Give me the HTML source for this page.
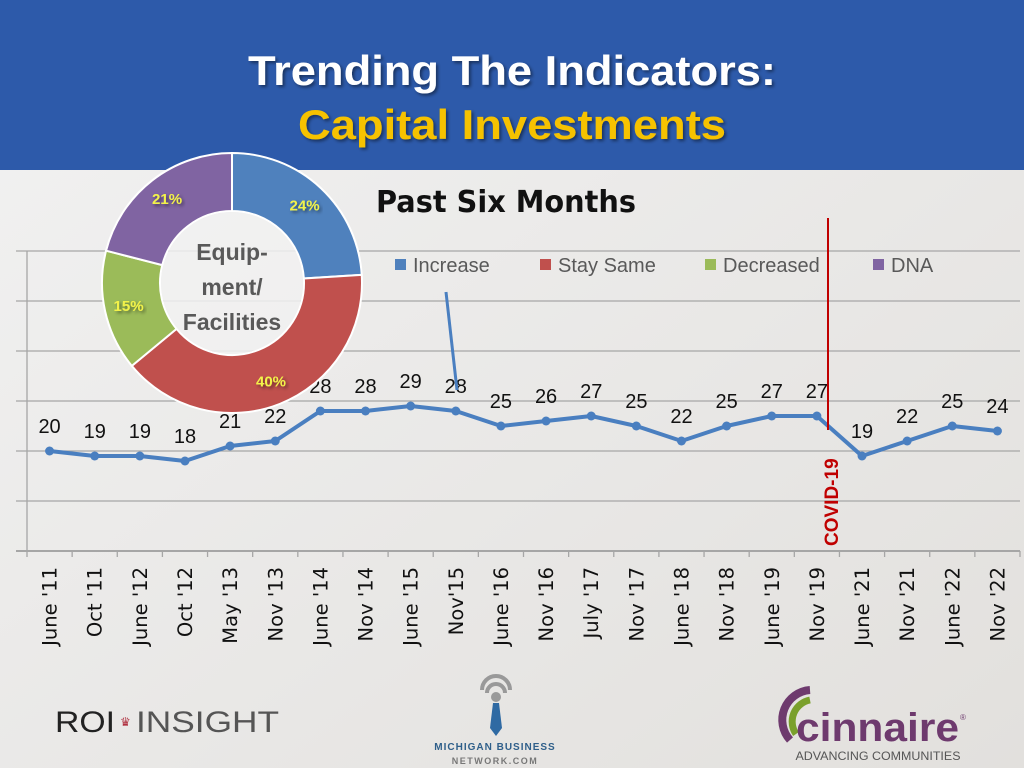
<!DOCTYPE html>
<html><head><meta charset="utf-8"><style>
body{margin:0;width:1024px;height:768px;overflow:hidden;font-family:"Liberation Sans",sans-serif;}
svg{display:block}
</style></head><body>
<svg id="s" width="1024" height="768" xmlns="http://www.w3.org/2000/svg">
<defs>
<linearGradient id="bg" x1="0" y1="0" x2="1" y2="1"><stop offset="0" stop-color="#f2f2f2"/><stop offset="1" stop-color="#e2e0dd"/></linearGradient>
<filter id="sh"><feDropShadow dx="2" dy="2" stdDeviation="1.5" flood-color="#000" flood-opacity="0.45"/></filter>
</defs>
<rect width="1024" height="768" fill="url(#bg)"/>
<rect width="1024" height="170" fill="#2d5aaa"/>
<text x="512" y="85" text-anchor="middle" font-size="42" font-weight="bold" fill="#fff" filter="url(#sh)" textLength="528" lengthAdjust="spacingAndGlyphs">Trending The Indicators:</text>
<text x="512" y="139" text-anchor="middle" font-size="42" font-weight="bold" fill="#f6c200" filter="url(#sh)" textLength="428" lengthAdjust="spacingAndGlyphs">Capital Investments</text>
<g id="grid"></g>
<g id="plot"></g>
<g id="pie"></g>
<text x="376" y="212" font-size="30" font-weight="bold" fill="#111" font-family="'DejaVu Sans',sans-serif" textLength="260" lengthAdjust="spacingAndGlyphs">Past Six Months</text>
<g font-size="20" fill="#595959">
<g><rect x="395" y="259" width="11" height="11" fill="#4f81bd"/><text x="413" y="272">Increase</text></g>
<g><rect x="540" y="259" width="11" height="11" fill="#c0504d"/><text x="558" y="272">Stay Same</text></g>
<g><rect x="705" y="259" width="11" height="11" fill="#9bbb59"/><text x="723" y="272">Decreased</text></g>
<g><rect x="873" y="259" width="11" height="11" fill="#8064a2"/><text x="891" y="272">DNA</text></g>
</g>
<line x1="446" y1="292" x2="457" y2="390" stroke="#4a7fc0" stroke-width="3"/>
<line x1="828" y1="218" x2="828" y2="430" stroke="#c00000" stroke-width="2"/>
<text transform="translate(838,546) rotate(-90)" font-size="19" font-weight="bold" fill="#c00000">COVID-19</text>
<g>
<text x="55" y="732" font-size="30" fill="#222" textLength="60" lengthAdjust="spacingAndGlyphs">ROI</text>
<text x="120" y="726" font-size="12" fill="#b03040">♛</text>
<text x="136" y="732" font-size="30" fill="#555" font-weight="normal" textLength="143" lengthAdjust="spacingAndGlyphs">INSIGHT</text>
</g>
<g>
<path d="M482 690 a14 14 0 0 1 28 0" fill="none" stroke="#999" stroke-width="4"/>
<path d="M487 693 a9 9 0 0 1 18 0" fill="none" stroke="#999" stroke-width="4"/>
<circle cx="496" cy="697" r="5" fill="#999"/>
<polygon points="493,703 499,703 502,728 496,736 490,728" fill="#2f6aa3"/>
<text x="495" y="750" text-anchor="middle" font-size="10" font-weight="bold" fill="#2f5f8a" letter-spacing="1">MICHIGAN BUSINESS</text>
<text x="495" y="764" text-anchor="middle" font-size="9" font-weight="bold" fill="#777" letter-spacing="1.5">NETWORK.COM</text>
</g>
<g>
<path d="M810 690 a30 30 0 0 0 -20 50" fill="none" stroke="#6e3a6e" stroke-width="8"/>
<path d="M810 700 a22 22 0 0 0 -14 34" fill="none" stroke="#7aa02c" stroke-width="7"/>
<text x="796" y="741" font-size="40" font-weight="bold" fill="#6e3a6e" textLength="163" lengthAdjust="spacingAndGlyphs">cinnaire</text>
<text x="960" y="720" font-size="8" fill="#6e3a6e">®</text>
<text x="878" y="760" text-anchor="middle" font-size="12" fill="#555" textLength="165" lengthAdjust="spacingAndGlyphs">ADVANCING COMMUNITIES</text>
</g>
</svg>
<script>
const categories=["June '11","Oct '11","June '12","Oct '12","May '13","Nov '13","June '14","Nov '14","June '15","Nov'15","June '16","Nov '16","July '17","Nov '17","June '18","Nov '18","June '19","Nov '19","June '21","Nov '21","June '22","Nov '22"];
const values=[20,19,19,18,21,22,28,28,29,28,25,26,27,25,22,25,27,27,19,22,25,24];
const yTicks=[0,10,20,30,40,50,60];
const pieLabels=["Increase","Stay Same","Decreased","DNA"];
const pieValues=[24,40,15,21];
const pieColors=["#4f81bd","#c0504d","#9bbb59","#8064a2"];
const NS="http://www.w3.org/2000/svg";
function mk(t,a,p){const e=document.createElementNS(NS,t);for(const k in a)e.setAttribute(k,a[k]);p.appendChild(e);return e;}
const x0=27,x1=1020,yBase=551,yScale=5;
const step=(x1-x0)/categories.length;
const X=i=>x0+step*(i+0.5);
const Y=v=>yBase-v*yScale;
const grid=document.getElementById('grid');
yTicks.forEach(t=>{const l=mk('line',{x1:16,x2:1020,y1:Y(t),y2:Y(t),stroke:'#a6a6a6','stroke-width':t===0?2:1.3},grid);

});
const ya=mk('line',{x1:x0,x2:x0,y1:Y(yTicks[yTicks.length-1]),y2:yBase,stroke:'#a6a6a6','stroke-width':1.3},grid);


for(let i=0;i<=categories.length;i++){const t=mk('line',{x1:x0+step*i,x2:x0+step*i,y1:yBase,y2:yBase+6,stroke:'#a6a6a6','stroke-width':1.3},grid);

}
const plot=document.getElementById('plot');
const pl=mk('polyline',{points:values.map((v,i)=>X(i)+','+Y(v)).join(' '),fill:'none',stroke:'#4a7fc0','stroke-width':4,'stroke-linejoin':'round'},plot);


values.forEach((v,i)=>{
const c=mk('circle',{cx:X(i),cy:Y(v),r:4.5,fill:'#4a7fc0'},plot);


const tx=mk('text',{x:X(i),y:Y(v)-18,'text-anchor':'middle','font-size':20,fill:'#111'},plot);
tx.textContent=v;


const xl=mk('text',{transform:`translate(${X(i)+7},567) rotate(-90)`,'text-anchor':'end','font-size':19.5,fill:'#111','font-family':"'DejaVu Sans',sans-serif"},plot);
xl.textContent=categories[i];


});
const pie=document.getElementById('pie');
const cx=232,cy=283,R=130,r=72;
const tot=pieValues.reduce((a,b)=>a+b,0);
let a0=-Math.PI/2;
const pt=(rad,a)=>[cx+rad*Math.cos(a),cy+rad*Math.sin(a)];
pieValues.forEach((v,i)=>{
const a1=a0+v/tot*2*Math.PI;const lg=(a1-a0)>Math.PI?1:0;
const [p1x,p1y]=pt(R,a0),[p2x,p2y]=pt(R,a1),[p3x,p3y]=pt(r,a1),[p4x,p4y]=pt(r,a0);
const s=mk('path',{d:`M${p1x},${p1y}A${R},${R} 0 ${lg} 1 ${p2x},${p2y}L${p3x},${p3y}A${r},${r} 0 ${lg} 0 ${p4x},${p4y}Z`,fill:pieColors[i],stroke:'#fff','stroke-width':2},pie);


const am=(a0+a1)/2;const [lx,ly]=pt((R+r)/2+5,am);
const t=mk('text',{x:lx,y:ly+5,'text-anchor':'middle','font-size':15,'font-weight':'bold',fill:'#f2f24a',filter:'url(#sh)'},pie);
t.textContent=v+'%';


a0=a1;});
const hole=mk('circle',{cx:cx,cy:cy,r:r-1,fill:'#f1f1f1','fill-opacity':0.85},pie);


["Equip-","ment/","Facilities"].forEach((s,k)=>{const t=mk('text',{x:cx,y:cy-27+k*35+4,'text-anchor':'middle','font-size':23,'font-weight':'bold',fill:'#595959'},pie);
t.textContent=s;

});
</script>
</body></html>
